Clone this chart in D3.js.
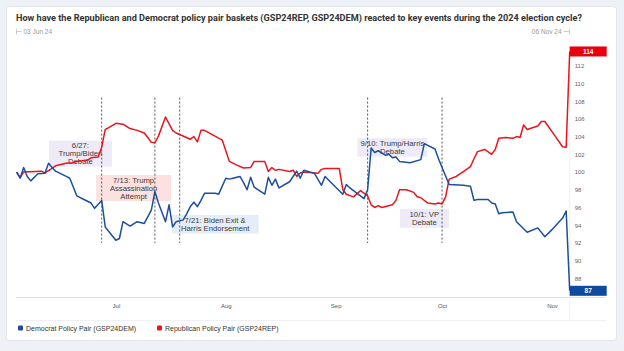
<!DOCTYPE html>
<html>
<head>
<meta charset="utf-8">
<script src="https://cdn.jsdelivr.net/npm/d3@7"></script>
<style>
  body { margin: 0; background: #eef1f5; }
  svg { display: block; font-family: "Liberation Sans", Arial, sans-serif; }
</style>
</head>
<body>
<svg id="chart" width="624" height="351"></svg>
<script>
// Democrat Policy Pair (GSP24DEM)
const demDates = ["2024-06-03","2024-06-04","2024-06-05","2024-06-06","2024-06-07","2024-06-09","2024-06-11","2024-06-12","2024-06-13","2024-06-14",
  "2024-06-17","2024-06-18","2024-06-20","2024-06-22","2024-06-24","2024-06-25","2024-06-27","2024-06-28","2024-06-29","2024-07-01",
  "2024-07-02","2024-07-03","2024-07-05","2024-07-07","2024-07-09","2024-07-11","2024-07-12","2024-07-13","2024-07-15","2024-07-16",
  "2024-07-17","2024-07-18","2024-07-20","2024-07-21","2024-07-22","2024-07-23","2024-07-24","2024-07-25","2024-07-26","2024-07-29",
  "2024-07-30","2024-08-01","2024-08-02","2024-08-03","2024-08-05","2024-08-06","2024-08-07","2024-08-08","2024-08-09","2024-08-12",
  "2024-08-13","2024-08-14","2024-08-15","2024-08-16","2024-08-19","2024-08-21","2024-08-22","2024-08-23","2024-08-26","2024-08-28",
  "2024-08-29","2024-09-03","2024-09-04","2024-09-05","2024-09-09","2024-09-10","2024-09-11","2024-09-12","2024-09-13","2024-09-15",
  "2024-09-16","2024-09-17","2024-09-18","2024-09-19","2024-09-22","2024-09-25","2024-09-26","2024-09-29","2024-09-30","2024-10-01",
  "2024-10-03","2024-10-07","2024-10-09","2024-10-10","2024-10-11","2024-10-14","2024-10-15","2024-10-16","2024-10-17","2024-10-18",
  "2024-10-21","2024-10-22","2024-10-23","2024-10-25","2024-10-28","2024-10-30","2024-11-01","2024-11-04","2024-11-05","2024-11-06"];
const demValues = [100.0,99.3,100.5,99.5,99.0,99.8,99.85,101.0,100.5,100.1,
  99.5,99.3,97.3,96.9,96.5,95.9,96.8,93.8,93.3,92.3,
  92.5,94.4,93.9,94.4,94.2,95.7,97.8,96.5,94.4,96.3,
  93.8,94.4,94.6,95.3,96.1,96.6,96.1,96.8,97.6,97.6,
  97.5,99.3,99.2,99.3,99.5,98.8,98.0,99.4,98.3,97.5,
  99.4,98.5,99.2,98.2,98.9,100.1,99.3,100.2,99.85,98.5,
  99.5,97.5,98.6,98.2,97.0,98.0,102.7,102.2,102.4,101.9,
  102.0,101.6,101.7,101.2,101.05,101.4,103.2,102.6,101.5,100.5,
  98.6,98.5,98.4,96.8,96.9,96.9,96.5,96.4,95.3,95.4,
  95.5,94.4,94.0,93.2,93.7,92.7,93.5,94.8,95.6,86.6];

// Republican Policy Pair (GSP24REP)
const repDates = ["2024-06-03","2024-06-04","2024-06-05","2024-06-10","2024-06-11","2024-06-13","2024-06-14","2024-06-17","2024-06-19","2024-06-20",
  "2024-06-23","2024-06-24","2024-06-26","2024-06-27","2024-06-28","2024-06-29","2024-07-01","2024-07-03","2024-07-05","2024-07-07",
  "2024-07-09","2024-07-10","2024-07-11","2024-07-12","2024-07-13","2024-07-15","2024-07-17","2024-07-18","2024-07-22","2024-07-23",
  "2024-07-24","2024-07-25","2024-07-26","2024-07-31","2024-08-02","2024-08-04","2024-08-06","2024-08-08","2024-08-09","2024-08-12",
  "2024-08-13","2024-08-14","2024-08-15","2024-08-16","2024-08-19","2024-08-20","2024-08-21","2024-08-22","2024-08-23","2024-08-27",
  "2024-08-28","2024-08-29","2024-09-02","2024-09-03","2024-09-04","2024-09-06","2024-09-08","2024-09-10","2024-09-11","2024-09-12",
  "2024-09-13","2024-09-14","2024-09-17","2024-09-18","2024-09-19","2024-09-21","2024-09-23","2024-09-24","2024-09-25","2024-09-27",
  "2024-09-29","2024-09-30","2024-10-01","2024-10-02","2024-10-03","2024-10-05","2024-10-07","2024-10-09","2024-10-10","2024-10-11",
  "2024-10-13","2024-10-15","2024-10-16","2024-10-17","2024-10-19","2024-10-21","2024-10-22","2024-10-23","2024-10-24","2024-10-25",
  "2024-10-28","2024-10-29","2024-10-30","2024-11-02","2024-11-04","2024-11-05","2024-11-06"];
const repValues = [100.0,99.4,100.0,100.1,99.9,100.4,100.7,101.0,101.05,101.2,
  101.35,101.6,101.7,102.8,104.8,105.0,105.5,105.4,104.9,104.7,
  104.4,103.9,103.35,103.3,104.05,106.2,104.7,104.4,103.7,104.0,
  103.4,104.7,104.7,103.6,101.2,100.8,100.45,100.5,101.2,101.2,
  100.05,100.5,100.2,100.3,100.05,100.2,99.5,99.9,100.0,99.85,
  100.3,100.4,100.4,98.0,97.5,97.2,97.9,97.3,96.3,96.0,
  96.2,96.0,96.3,96.8,98.0,98.0,97.7,97.2,97.1,96.5,
  96.4,96.5,96.4,97.2,99.2,99.5,100.05,100.6,101.5,102.3,
  102.55,102.0,102.55,103.8,103.9,103.8,104.0,103.9,105.3,104.8,
  105.2,105.7,105.7,104.0,102.85,102.8,113.6];

const yTicks = [88,90,92,94,96,98,100,102,104,106,108,110,112];
const monthTicks = ["2024-07-01","2024-08-01","2024-09-01","2024-10-01","2024-11-01"];
const monthLabels = ["Jul","Aug","Sep","Oct","Nov"];

// key events
const eventDates = ["2024-06-27","2024-07-12","2024-07-19","2024-09-10","2024-10-01"];
const eventRange = [92, 108.4];
const noteLines = [["6/27:","Trump/Biden","Debate"],["7/13: Trump","Assassination","Attempt"],
  ["7/21: Biden Exit &","Harris Endorsement"],["9/10: Trump/Harris","Debate"],["10/1: VP","Debate"]];
const noteDates = ["2024-06-21","2024-07-06","2024-07-29","2024-09-17","2024-09-26"];
const noteValues = [102.07, 98.2, 94.1, 102.77, 94.77];
const noteWidths = [63, 75, 87, 70, 49];
const noteHeights = [26, 26, 18.5, 18.5, 19];
const noteFills = ["#eeeaf7","#fbe2e0","#e4edf8","#eeeaf7","#eeeaf7"];

const title = "How have the Republican and Democrat policy pair baskets (GSP24REP, GSP24DEM) reacted to key events during the 2024 election cycle?";
const startLabel = "03 Jun 24", endLabel = "06 Nov 24";
const seriesNames = ["Democrat Policy Pair (GSP24DEM)","Republican Policy Pair (GSP24REP)"];
const demColor = "#1b4f9c", repColor = "#e8151c";

const parse = d3.utcParse("%Y-%m-%d");
const dem = demDates.map((d, i) => ({date: parse(d), value: demValues[i]}));
const rep = repDates.map((d, i) => ({date: parse(d), value: repValues[i]}));

const svg = d3.select("#chart");

// card
svg.append("rect").attr("x", 6.5).attr("y", 6.5).attr("width", 610).attr("height", 334)
  .attr("rx", 3).attr("fill", "#fff").attr("stroke", "#e2e6eb");

svg.append("text").attr("x", 16).attr("y", 20.5)
  .attr("font-family", "Roboto, sans-serif").attr("font-weight", "bold").attr("font-size", 9.4)
  .attr("fill", "#333").attr("textLength", 566).attr("lengthAdjust", "spacingAndGlyphs")
  .text(title);

// start / end range
svg.append("path").attr("d", "M16.5,28.5V34.5M16.5,31.5H21.5").attr("stroke", "#ccc").attr("fill", "none");
svg.append("text").attr("x", 23.5).attr("y", 33.5).attr("font-size", 6.5).attr("fill", "#999").text(startLabel);
svg.append("path").attr("d", "M564,31.5H569.5M569.5,28.5V34.5").attr("stroke", "#ccc").attr("fill", "none");
svg.append("text").attr("x", 561.5).attr("y", 33.5).attr("font-size", 6.5).attr("fill", "#999")
  .attr("text-anchor", "end").text(endLabel);

// scales
const x = d3.scaleUtc().domain([parse("2024-06-03"), parse("2024-11-06")]).range([16.6, 569.7]);
const y = d3.scaleLinear().domain([85.9, 114.33]).range([297, 45]);
const plotRight = x.range()[1];

// frame lines
svg.append("line").attr("x1", 16).attr("x2", 606).attr("y1", 297.5).attr("y2", 297.5).attr("stroke", "#dde1e6");
svg.append("line").attr("x1", 16).attr("x2", 606).attr("y1", 320.5).attr("y2", 320.5).attr("stroke", "#eef0f3");
svg.append("line").attr("x1", plotRight).attr("x2", plotRight).attr("y1", 45).attr("y2", 320)
  .attr("stroke", "#eef0f3");

// y axis labels on the right
const yAxis = d3.axisRight(y).tickValues(yTicks).tickSize(0).tickPadding(5);
svg.append("g").attr("transform", `translate(${plotRight},0)`).call(yAxis)
  .call(g => g.select(".domain").remove())
  .call(g => g.selectAll("text").attr("font-size", 6).attr("fill", "#666").attr("font-family", "Liberation Sans, Arial"));

// x axis month labels
const xAxis = d3.axisBottom(x).tickValues(monthTicks.map(parse)).tickFormat((d, i) => monthLabels[i])
  .tickSize(0).tickPadding(7);
svg.append("g").attr("transform", "translate(0,297)").call(xAxis)
  .call(g => g.select(".domain").remove())
  .call(g => g.selectAll("text").attr("font-size", 6).attr("fill", "#555").attr("font-family", "Liberation Sans, Arial"));

// annotation boxes
const notes = noteLines.map((lines, i) => ({lines, date: parse(noteDates[i]), value: noteValues[i],
  w: noteWidths[i], h: noteHeights[i], fill: noteFills[i]}));
const ng = svg.append("g").selectAll("g").data(notes).join("g")
  .attr("transform", d => `translate(${x(d.date)},${y(d.value)})`);
ng.append("rect").attr("x", d => -d.w / 2).attr("y", d => -d.h / 2)
  .attr("width", d => d.w).attr("height", d => d.h).attr("fill", d => d.fill);
ng.each(function (d) {
  const lh = 7.9;
  const t = d3.select(this).append("text").attr("text-anchor", "middle")
    .attr("font-size", 7.7).attr("fill", "#3a3a3a");
  d.lines.forEach((l, j) => {
    t.append("tspan").attr("x", 0).attr("y", (j - (d.lines.length - 1) / 2) * lh + 2.7).text(l);
  });
});

// event lines
svg.append("g").selectAll("line").data(eventDates.map(parse)).join("line")
  .attr("x1", d => x(d)).attr("x2", d => x(d))
  .attr("y1", y(eventRange[1])).attr("y2", y(eventRange[0]))
  .attr("stroke", "#555").attr("stroke-width", 1).attr("stroke-dasharray", "2,2");

// series
const line = d3.line().x(d => x(d.date)).y(d => y(d.value));
svg.append("path").datum(rep).attr("d", line).attr("fill", "none")
  .attr("stroke", repColor).attr("stroke-width", 1.5).attr("stroke-linejoin", "round");
svg.append("path").datum(dem).attr("d", line).attr("fill", "none")
  .attr("stroke", demColor).attr("stroke-width", 1.5).attr("stroke-linejoin", "round");

// last value tags
[[rep, "#e8000d"], [dem, "#0d4aa0"]].forEach(([s, c]) => {
  const last = s[s.length - 1];
  svg.append("rect").attr("x", plotRight).attr("y", y(last.value) - 5).attr("width", 37).attr("height", 10).attr("fill", c);
  svg.append("text").attr("x", plotRight + 18.5).attr("y", y(last.value) + 2.3).attr("text-anchor", "middle")
    .attr("font-size", 6.5).attr("font-weight", "bold").attr("fill", "#fff").text(d3.format(".0f")(last.value));
});

// legend
const lg = svg.append("g").selectAll("g").data(seriesNames).join("g")
  .attr("transform", (d, i) => `translate(${i === 0 ? 18 : 157},328)`);
lg.append("rect").attr("x", 0).attr("y", -2.5).attr("width", 5).attr("height", 5).attr("rx", 1)
  .attr("fill", (d, i) => i === 0 ? demColor : repColor);
lg.append("text").attr("x", 8).attr("y", 2.5).attr("font-size", 7).attr("fill", "#333").text(d => d);
</script>
</body>
</html>
